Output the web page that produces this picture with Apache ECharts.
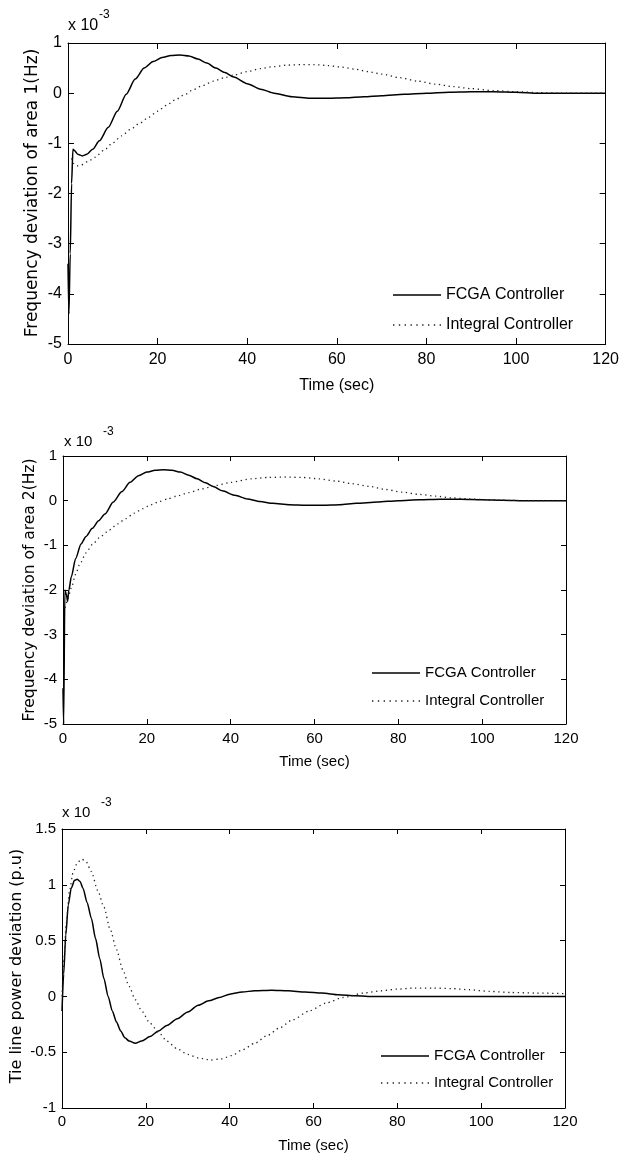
<!DOCTYPE html>
<html>
<head>
<meta charset="utf-8">
<title>Frequency and tie line deviation</title>
<script src="https://cdn.jsdelivr.net/npm/echarts@6.0.0/dist/echarts.min.js"></script>
<style>
  body { margin: 0; background: #fff; }
  #myChart { width: 622px; height: 1160px; }
</style>
</head>
<body>
<div id="myChart"></div>
<script>
// values are in units of 1e-3 (the "x 10^-3" label above each plot)
const xTicks = [0, 20, 40, 60, 80, 100, 120];
const seriesNames = ["FCGA Controller", "Integral Controller"];
const yLabels = ["Frequency deviation of area 1(Hz)", "Frequency deviation of area 2(Hz)", "Tie line power deviation (p.u)"];

// area 1
const area1FcgaTime = [0, 0.2, 0.5, 0.8, 1.1, 1.5, 2.2, 3.2, 4.2, 5.5, 7, 9, 11, 13, 15, 17, 19, 21, 23, 25, 27, 29, 31, 33, 35, 37, 40, 43, 46, 50, 54, 58, 62, 66, 70, 75, 80, 85, 90, 95, 100, 105, 110, 120];
const area1Fcga = [-3.4, -4.4, -3.2, -1.8, -1.12, -1.15, -1.22, -1.25, -1.22, -1.12, -0.95, -0.68, -0.36, -0.02, 0.28, 0.5, 0.63, 0.71, 0.75, 0.76, 0.74, 0.68, 0.6, 0.5, 0.41, 0.32, 0.19, 0.08, 0.0, -0.07, -0.1, -0.1, -0.09, -0.07, -0.05, -0.02, 0.0, 0.02, 0.03, 0.03, 0.02, 0.0, 0.0, 0.0];
const area1IntTime = [0.8, 1.2, 2, 3, 4.5, 6, 8, 10, 12, 14, 16, 18, 20, 22, 24, 26, 28, 30, 32.5, 35, 37, 40, 43, 46, 49, 52, 55, 58, 61, 64, 67, 70, 74, 78, 82, 86, 90, 95, 100, 105, 110, 120];
const area1Int = [-1.3, -1.4, -1.45, -1.43, -1.36, -1.28, -1.14, -0.99, -0.85, -0.72, -0.6, -0.48, -0.36, -0.24, -0.13, -0.03, 0.07, 0.15, 0.24, 0.31, 0.36, 0.43, 0.49, 0.53, 0.56, 0.57, 0.57, 0.55, 0.52, 0.48, 0.43, 0.38, 0.31, 0.24, 0.18, 0.13, 0.09, 0.05, 0.03, 0.01, 0.0, 0.0];

// area 2
const area2FcgaTime = [0, 0.15, 0.45, 0.8, 1.1, 1.4, 2, 3, 4.3, 5.5, 7, 8.5, 10, 12, 14, 16, 18, 20, 22, 24, 26, 28, 30, 32, 34, 36, 38, 41, 44, 47, 50, 54, 58, 62, 66, 70, 75, 80, 85, 90, 95, 100, 105, 110, 120];
const area2Fcga = [-4.2, -5.0, -2.0, -2.1, -2.25, -2.0, -1.7, -1.3, -0.97, -0.8, -0.62, -0.45, -0.3, -0.03, 0.2, 0.41, 0.56, 0.64, 0.68, 0.69, 0.68, 0.64, 0.57, 0.49, 0.4, 0.31, 0.22, 0.12, 0.04, -0.02, -0.06, -0.09, -0.1, -0.1, -0.09, -0.06, -0.03, 0.0, 0.02, 0.03, 0.03, 0.02, 0.01, 0.0, 0.0];
const area2IntTime = [0.5, 1, 2, 3, 4, 5.5, 7, 9, 11, 13, 15, 17, 19, 21, 23, 25, 27, 30, 33, 36.5, 40, 45, 49, 53, 57, 61, 65, 69, 73, 77, 81, 85, 89, 93, 97, 101, 105, 110, 120];
const area2Int = [-2.4, -2.25, -1.95, -1.65, -1.42, -1.17, -0.98, -0.8, -0.66, -0.52, -0.4, -0.28, -0.18, -0.09, -0.02, 0.04, 0.1, 0.18, 0.26, 0.34, 0.41, 0.49, 0.52, 0.53, 0.52, 0.49, 0.44, 0.38, 0.32, 0.25, 0.19, 0.14, 0.1, 0.06, 0.04, 0.02, 0.01, 0.0, 0.0];

// tie line
const tieFcgaTime = [0, 0.4, 0.9, 1.5, 2.2, 3, 3.6, 4.3, 5, 6, 7, 8, 9, 10, 11, 12, 13, 14, 15, 16, 17.5, 19, 21, 23, 25, 27.5, 30, 32.5, 35, 37.5, 40, 43, 46, 50, 54, 58, 62, 66, 70, 73, 80, 90, 100, 110, 120];
const tieFcga = [-0.13, 0.2, 0.55, 0.82, 0.97, 1.04, 1.05, 1.03, 0.97, 0.84, 0.7, 0.52, 0.34, 0.16, 0.0, -0.13, -0.23, -0.31, -0.37, -0.4, -0.42, -0.4, -0.36, -0.31, -0.26, -0.2, -0.14, -0.08, -0.04, -0.01, 0.02, 0.04, 0.05, 0.055, 0.05, 0.04, 0.03, 0.015, 0.005, 0.0, 0.0, 0.0, 0.0, 0.0, 0.0];
const tieIntTime = [0, 0.5, 1, 1.8, 2.7, 3.7, 4.7, 5.7, 7, 8.5, 10, 11.5, 13, 14.5, 16, 17.5, 19, 21, 23, 25, 27.5, 30, 32.5, 35.5, 38, 40.5, 43, 46, 49, 52, 55, 59, 63, 67, 72, 76, 80, 84, 88.5, 93, 97, 102, 107, 113, 120];
const tieInt = [0, 0.35, 0.65, 0.95, 1.12, 1.2, 1.23, 1.21, 1.12, 0.95, 0.8, 0.6, 0.42, 0.24, 0.09, -0.03, -0.13, -0.24, -0.32, -0.4, -0.47, -0.52, -0.55, -0.57, -0.56, -0.53, -0.48, -0.42, -0.35, -0.28, -0.21, -0.13, -0.06, -0.01, 0.03, 0.05, 0.065, 0.075, 0.075, 0.07, 0.06, 0.045, 0.035, 0.03, 0.025];

// narrow font if it is there, otherwise a smaller Liberation Sans of the same width
function hasFont(name) {
  const ctx = document.createElement("canvas").getContext("2d");
  const probe = "FCGA Controller 0123";
  ctx.font = "20px monospace";
  const w0 = ctx.measureText(probe).width;
  ctx.font = "20px '" + name + "', monospace";
  return ctx.measureText(probe).width !== w0;
}
const narrowOk = hasFont("Liberation Sans Narrow");
const narrow = narrowOk ? "'Liberation Sans Narrow'" : "'Liberation Sans', Arial, sans-serif";
const fs = narrowOk ? 1 : 0.83;

function pairs(t, v) {
  return t.map((x, i) => [x, v[i]]);
}

// little squares for the dotted legend sample
let dotPath = "path://";
for (let k = 0; k < 9; k++) dotPath += "M" + (k * 5.5) + " 0h1.3v1.3h-1.3z";

// layout of the three panels
const panels = [
  { left: 68, top: 43, width: 541, height: 301, ymin: -5, ymax: 1, step: 1, font: 19, tick: 6, labelGap: 8, nameGap: 34,
    legendLeft: 393, legendTop: 285, legendGap: 10, yName: { x: 33, y: 193, size: 17 }, exp: { x: 68, y: 26, sx: 99, sy: 15 },
    fcga: pairs(area1FcgaTime, area1Fcga), integral: pairs(area1IntTime, area1Int) },
  { left: 63, top: 456, width: 503, height: 268, ymin: -5, ymax: 1, step: 1, font: 18, tick: 5, labelGap: 7, nameGap: 30,
    legendLeft: 372, legendTop: 663, legendGap: 8, yName: { x: 30, y: 590, size: 15.5 }, exp: { x: 64, y: 442, sx: 103, sy: 432 },
    fcga: pairs(area2FcgaTime, area2Fcga), integral: pairs(area2IntTime, area2Int) },
  { left: 62, top: 829, width: 503, height: 279, ymin: -1, ymax: 1.5, step: 0.5, font: 18, tick: 5, labelGap: 6, nameGap: 30,
    legendLeft: 381, legendTop: 1046, legendGap: 7, yName: { x: 17, y: 966, size: 16 }, exp: { x: 62, y: 813, sx: 101, sy: 803 },
    fcga: pairs(tieFcgaTime, tieFcga), integral: pairs(tieIntTime, tieInt) }
];

const axisLine = { onZero: false, lineStyle: { color: "#000", width: 1 } };
let grid = [], xAxis = [], yAxis = [], series = [], legend = [], graphic = [];

panels.forEach((p, i) => {
  const size = Math.round(p.font * fs * 2) / 2;
  grid.push({ left: p.left, top: p.top, width: p.width, height: p.height });
  const tick = { inside: true, length: p.tick, lineStyle: { color: "#000" } };
  const label = { color: "#000", fontFamily: narrow, fontSize: size };
  // bottom and top x axis
  xAxis.push({
    type: "value", gridIndex: i, min: xTicks[0], max: xTicks[xTicks.length - 1], interval: 20,
    axisLine: axisLine, axisTick: tick, splitLine: { show: false },
    axisLabel: Object.assign({ margin: p.labelGap }, label),
    name: "Time (sec)", nameLocation: "middle", nameGap: p.nameGap,
    nameTextStyle: { color: "#000", fontFamily: narrow, fontSize: size }
  });
  xAxis.push({
    type: "value", gridIndex: i, position: "top", min: 0, max: 120, interval: 20,
    axisLine: axisLine, axisTick: tick, axisLabel: { show: false }, splitLine: { show: false }
  });
  // left and right y axis
  yAxis.push({
    type: "value", gridIndex: i, min: p.ymin, max: p.ymax, interval: p.step,
    axisLine: axisLine, axisTick: tick, splitLine: { show: false },
    axisLabel: Object.assign({ margin: 6 }, label)
  });
  yAxis.push({
    type: "value", gridIndex: i, position: "right", min: p.ymin, max: p.ymax, interval: p.step,
    axisLine: axisLine, axisTick: tick, axisLabel: { show: false }, splitLine: { show: false }
  });

  series.push({
    name: seriesNames[0], type: "line", xAxisIndex: i * 2, yAxisIndex: i * 2,
    data: p.fcga, symbol: "none", smooth: 0.25, smoothMonotone: "x",
    lineStyle: { color: "#000", width: 1.5 }, itemStyle: { color: "#000" }
  });
  series.push({
    name: seriesNames[1], type: "line", xAxisIndex: i * 2, yAxisIndex: i * 2,
    data: p.integral, symbol: "none", smooth: 0.25, smoothMonotone: "x",
    lineStyle: { color: "#222", width: 1.3, type: [1.3, 3.6] }, itemStyle: { color: "#222" }
  });

  legend.push({
    data: [{ name: seriesNames[0], icon: "rect" }, { name: seriesNames[1], icon: dotPath }],
    orient: "vertical", left: p.legendLeft, top: p.legendTop,
    itemWidth: 48, itemHeight: 1.5, itemGap: p.legendGap, padding: 0, selectedMode: false,
    textStyle: { color: "#000", fontFamily: narrow, fontSize: size, lineHeight: 20 }
  });

  // "x 10^-3" exponent label
  graphic.push({ type: "text", x: p.exp.x, y: p.exp.y,
    style: { text: "x 10", fontFamily: narrow, fontSize: size, fill: "#000", verticalAlign: "middle" } });
  graphic.push({ type: "text", x: p.exp.sx, y: p.exp.sy,
    style: { text: "-3", fontFamily: narrow, fontSize: 12, fill: "#000", verticalAlign: "middle" } });
  // rotated y label
  graphic.push({ type: "text", x: p.yName.x, y: p.yName.y, rotation: Math.PI / 2,
    style: { text: yLabels[i], fontFamily: "DejaVu Sans", fontSize: p.yName.size, fill: "#000", align: "center", verticalAlign: "middle" } });
});

const myChart = echarts.init(document.getElementById("myChart"), null, { renderer: "canvas" });
myChart.setOption({
  backgroundColor: "#fff",
  animation: false,
  grid: grid,
  xAxis: xAxis,
  yAxis: yAxis,
  legend: legend,
  series: series,
  graphic: graphic
});
</script>
</body>
</html>
